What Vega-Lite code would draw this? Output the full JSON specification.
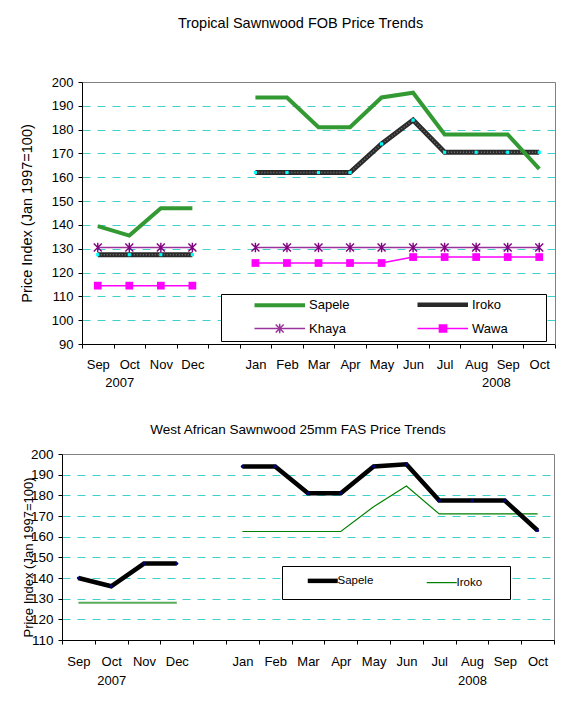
{
  "$schema": "https://vega.github.io/schema/vega-lite/v6.json",
  "padding": {"left": 18, "top": 15, "right": 0, "bottom": 0},
  "background": "white",
  "config": {
    "font": "Liberation Sans",
    "view": {"stroke": "#808080", "strokeWidth": 1},
    "axis": {"domainColor": "black", "tickColor": "black", "labelColor": "black", "titleColor": "black", "labelFont": "Liberation Sans", "titleFont": "Liberation Sans", "titleFontWeight": "normal"},
    "title": {"font": "Liberation Sans", "fontWeight": "normal", "color": "black"},
    "legend": {"labelFont": "Liberation Sans", "titleFont": "Liberation Sans", "labelColor": "black"}
  },
  "spacing": 33,
  "resolve": {"scale": {"color": "independent"}, "legend": {"color": "independent"}},
  "datasets": {
    "top": [
      {"s": "Sapele", "g": "2007", "m": "Sep 2007", "v": 139.5},
      {"s": "Sapele", "g": "2007", "m": "Oct 2007", "v": 135.5},
      {"s": "Sapele", "g": "2007", "m": "Nov 2007", "v": 147},
      {"s": "Sapele", "g": "2007", "m": "Dec 2007", "v": 147},
      {"s": "Sapele", "g": "2008", "m": "Jan 2008", "v": 193.5},
      {"s": "Sapele", "g": "2008", "m": "Feb 2008", "v": 193.5},
      {"s": "Sapele", "g": "2008", "m": "Mar 2008", "v": 181},
      {"s": "Sapele", "g": "2008", "m": "Apr 2008", "v": 181},
      {"s": "Sapele", "g": "2008", "m": "May 2008", "v": 193.5},
      {"s": "Sapele", "g": "2008", "m": "Jun 2008", "v": 195.5},
      {"s": "Sapele", "g": "2008", "m": "Jul 2008", "v": 178},
      {"s": "Sapele", "g": "2008", "m": "Aug 2008", "v": 178},
      {"s": "Sapele", "g": "2008", "m": "Sep 2008", "v": 178},
      {"s": "Sapele", "g": "2008", "m": "Oct 2008", "v": 163.5},
      {"s": "Iroko", "g": "2007", "m": "Sep 2007", "v": 127.5},
      {"s": "Iroko", "g": "2007", "m": "Oct 2007", "v": 127.5},
      {"s": "Iroko", "g": "2007", "m": "Nov 2007", "v": 127.5},
      {"s": "Iroko", "g": "2007", "m": "Dec 2007", "v": 127.5},
      {"s": "Iroko", "g": "2008", "m": "Jan 2008", "v": 162},
      {"s": "Iroko", "g": "2008", "m": "Feb 2008", "v": 162},
      {"s": "Iroko", "g": "2008", "m": "Mar 2008", "v": 162},
      {"s": "Iroko", "g": "2008", "m": "Apr 2008", "v": 162},
      {"s": "Iroko", "g": "2008", "m": "May 2008", "v": 174},
      {"s": "Iroko", "g": "2008", "m": "Jun 2008", "v": 184},
      {"s": "Iroko", "g": "2008", "m": "Jul 2008", "v": 170.5},
      {"s": "Iroko", "g": "2008", "m": "Aug 2008", "v": 170.5},
      {"s": "Iroko", "g": "2008", "m": "Sep 2008", "v": 170.5},
      {"s": "Iroko", "g": "2008", "m": "Oct 2008", "v": 170.5},
      {"s": "Khaya", "g": "2007", "m": "Sep 2007", "v": 130.5},
      {"s": "Khaya", "g": "2007", "m": "Oct 2007", "v": 130.5},
      {"s": "Khaya", "g": "2007", "m": "Nov 2007", "v": 130.5},
      {"s": "Khaya", "g": "2007", "m": "Dec 2007", "v": 130.5},
      {"s": "Khaya", "g": "2008", "m": "Jan 2008", "v": 130.5},
      {"s": "Khaya", "g": "2008", "m": "Feb 2008", "v": 130.5},
      {"s": "Khaya", "g": "2008", "m": "Mar 2008", "v": 130.5},
      {"s": "Khaya", "g": "2008", "m": "Apr 2008", "v": 130.5},
      {"s": "Khaya", "g": "2008", "m": "May 2008", "v": 130.5},
      {"s": "Khaya", "g": "2008", "m": "Jun 2008", "v": 130.5},
      {"s": "Khaya", "g": "2008", "m": "Jul 2008", "v": 130.5},
      {"s": "Khaya", "g": "2008", "m": "Aug 2008", "v": 130.5},
      {"s": "Khaya", "g": "2008", "m": "Sep 2008", "v": 130.5},
      {"s": "Khaya", "g": "2008", "m": "Oct 2008", "v": 130.5},
      {"s": "Wawa", "g": "2007", "m": "Sep 2007", "v": 114.5},
      {"s": "Wawa", "g": "2007", "m": "Oct 2007", "v": 114.5},
      {"s": "Wawa", "g": "2007", "m": "Nov 2007", "v": 114.5},
      {"s": "Wawa", "g": "2007", "m": "Dec 2007", "v": 114.5},
      {"s": "Wawa", "g": "2008", "m": "Jan 2008", "v": 124},
      {"s": "Wawa", "g": "2008", "m": "Feb 2008", "v": 124},
      {"s": "Wawa", "g": "2008", "m": "Mar 2008", "v": 124},
      {"s": "Wawa", "g": "2008", "m": "Apr 2008", "v": 124},
      {"s": "Wawa", "g": "2008", "m": "May 2008", "v": 124},
      {"s": "Wawa", "g": "2008", "m": "Jun 2008", "v": 126.5},
      {"s": "Wawa", "g": "2008", "m": "Jul 2008", "v": 126.5},
      {"s": "Wawa", "g": "2008", "m": "Aug 2008", "v": 126.5},
      {"s": "Wawa", "g": "2008", "m": "Sep 2008", "v": 126.5},
      {"s": "Wawa", "g": "2008", "m": "Oct 2008", "v": 126.5}
    ],
    "bottom": [
      {"s": "Sapele", "g": "2007", "m": "Sep 2007", "v": 140},
      {"s": "Sapele", "g": "2007", "m": "Oct 2007", "v": 136},
      {"s": "Sapele", "g": "2007", "m": "Nov 2007", "v": 147},
      {"s": "Sapele", "g": "2007", "m": "Dec 2007", "v": 147},
      {"s": "Sapele", "g": "2008", "m": "Jan 2008", "v": 194},
      {"s": "Sapele", "g": "2008", "m": "Feb 2008", "v": 194},
      {"s": "Sapele", "g": "2008", "m": "Mar 2008", "v": 181},
      {"s": "Sapele", "g": "2008", "m": "Apr 2008", "v": 181},
      {"s": "Sapele", "g": "2008", "m": "May 2008", "v": 194},
      {"s": "Sapele", "g": "2008", "m": "Jun 2008", "v": 195},
      {"s": "Sapele", "g": "2008", "m": "Jul 2008", "v": 177.5},
      {"s": "Sapele", "g": "2008", "m": "Aug 2008", "v": 177.5},
      {"s": "Sapele", "g": "2008", "m": "Sep 2008", "v": 177.5},
      {"s": "Sapele", "g": "2008", "m": "Oct 2008", "v": 163},
      {"s": "Iroko", "g": "2007", "m": "Sep 2007", "v": 128},
      {"s": "Iroko", "g": "2007", "m": "Oct 2007", "v": 128},
      {"s": "Iroko", "g": "2007", "m": "Nov 2007", "v": 128},
      {"s": "Iroko", "g": "2007", "m": "Dec 2007", "v": 128},
      {"s": "Iroko", "g": "2008", "m": "Jan 2008", "v": 162.5},
      {"s": "Iroko", "g": "2008", "m": "Feb 2008", "v": 162.5},
      {"s": "Iroko", "g": "2008", "m": "Mar 2008", "v": 162.5},
      {"s": "Iroko", "g": "2008", "m": "Apr 2008", "v": 162.5},
      {"s": "Iroko", "g": "2008", "m": "May 2008", "v": 174.5},
      {"s": "Iroko", "g": "2008", "m": "Jun 2008", "v": 184.5},
      {"s": "Iroko", "g": "2008", "m": "Jul 2008", "v": 171},
      {"s": "Iroko", "g": "2008", "m": "Aug 2008", "v": 171},
      {"s": "Iroko", "g": "2008", "m": "Sep 2008", "v": 171},
      {"s": "Iroko", "g": "2008", "m": "Oct 2008", "v": 171}
    ]
  },
  "vconcat": [
    {
      "width": 493,
      "height": 262,
      "view": {"stroke": null},
      "title": {"text": "Tropical Sawnwood FOB Price Trends", "fontSize": 14.5, "offset": 45, "dx": -8},
      "data": {"name": "top"},
      "resolve": {"axis": {"x": "independent", "y": "independent"}},
      "layer": [
        {
          "encoding": {
            "x": {
              "field": "m", "type": "ordinal", "bandPosition": 0.5,
              "scale": {"type": "band", "paddingInner": 0, "paddingOuter": 0, "range": [20, 493],
                "domain": ["Sep 2007", "Oct 2007", "Nov 2007", "Dec 2007", "gap", "Jan 2008", "Feb 2008", "Mar 2008", "Apr 2008", "May 2008", "Jun 2008", "Jul 2008", "Aug 2008", "Sep 2008", "Oct 2008"]},
              "axis": {
                "title": null, "tickBand": "extent", "tickSize": 4, "labelPadding": 10, "labelAngle": 0, "labelOverlap": false,
                "labelFontSize": 13, "labelLineHeight": 18, "labelBaseline": "top", "grid": false,
                "labelExpr": "!isValid(datum.value) || datum.value == 'gap' ? '' : datum.value == 'Oct 2007' ? ['Oct', '2007\u2800\u2800'] : datum.value == 'Sep 2008' ? ['Sep', '2008\u2800\u00a0\u2800'] : split(datum.value, ' ')[0]"
              }
            },
            "y": {
              "field": "v", "type": "quantitative",
              "scale": {"domain": [90, 200], "nice": false, "zero": false},
              "axis": {
                "title": "Price Index (Jan 1997=100)", "titleFontSize": 14.5, "titleX": -55, "titleBaseline": "middle",
                "offset": -20,
                "values": [90, 100, 110, 120, 130, 140, 150, 160, 170, 180, 190, 200],
                "labelFontSize": 13, "tickSize": 4, "labelPadding": 5,
                "grid": true, "gridColor": "#40d0d0", "gridDash": [8, 7], "gridWidth": 1.2,
                "gridOpacity": {"condition": {"test": "datum.value == 90 || datum.value == 200", "value": 0}, "value": 1}
              }
            }
          },
          "layer": [
            {
              "transform": [{"filter": "datum.s == 'Iroko'"}],
              "mark": {"type": "line", "strokeWidth": 5},
              "encoding": {
                "detail": {"field": "g"},
                "color": {
                  "field": "s", "type": "nominal",
                  "scale": {"domain": ["Sapele", "Iroko", "Khaya", "Wawa"], "range": ["#339933", "#2a2a2a", "#993399", "#ff00ff"]},
                  "legend": {
                    "orient": "none", "legendX": 159, "legendY": 212, "direction": "horizontal",
                    "columns": 2, "columnPadding": 38, "rowPadding": 6, "padding": 4,
                    "strokeColor": "black", "fillColor": "white", "title": null,
                    "labelFontSize": 13, "symbolSize": 256, "symbolOffset": 31, "labelOffset": 40,
                    "labelExpr": "datum.label == 'Iroko' || datum.label == 'Wawa' ? datum.label + '\u2800\u00a0\u2800\u2800' : datum.label",
                    "encode": {
                      "symbols": {
                        "update": {
                          "shape": {"signal": "datum.value == 'Khaya' ? 'M-1,0H5.3125M1.65,-0.5L2.65,0.5M2.65,-0.5L1.65,0.5M2.15,-0.6V0.6' : datum.value == 'Wawa' ? 'M-1,0H5.3125M1.74,-0.45H2.64V0.45H1.74Z' : 'M-1,0H5.3125'"},
                          "strokeWidth": {"signal": "datum.value == 'Sapele' ? 4 : datum.value == 'Iroko' ? 4.5 : 1.5"},
                          "stroke": {"signal": "datum.value == 'Sapele' ? '#339933' : datum.value == 'Iroko' ? '#2a2a2a' : datum.value == 'Khaya' ? '#993399' : '#ff00ff'"},
                          "fill": {"signal": "datum.value == 'Wawa' ? '#ff00ff' : 'transparent'"},
                          "opacity": {"value": 1}
                        }
                      }
                    }
                  }
                }
              }
            },
            {
              "transform": [{"filter": "datum.s == 'Iroko'"}],
              "mark": {"type": "line", "strokeWidth": 1.5, "color": "#777777", "strokeDash": [1, 2]},
              "encoding": {"detail": {"field": "g"}}
            },
            {
              "transform": [{"filter": "datum.s == 'Iroko'"}],
              "mark": {"type": "point", "shape": "square", "filled": true, "size": 10, "color": "#00ffff", "opacity": 1},
              "encoding": {}
            },
            {
              "transform": [{"filter": "datum.s == 'Sapele'"}],
              "mark": {"type": "line", "strokeWidth": 4},
              "encoding": {"detail": {"field": "g"}, "color": {"field": "s", "type": "nominal"}}
            },
            {
              "transform": [{"filter": "datum.s == 'Khaya'"}],
              "mark": {"type": "line", "strokeWidth": 1.5},
              "encoding": {"detail": {"field": "g"}, "color": {"field": "s", "type": "nominal"}}
            },
            {
              "transform": [{"filter": "datum.s == 'Khaya'"}],
              "mark": {"type": "point", "shape": "M-1,-1L1,1M1,-1L-1,1M0,-1.2V1.2", "filled": false, "size": 64, "color": "#800080", "strokeWidth": 1.4, "opacity": 1},
              "encoding": {}
            },
            {
              "transform": [{"filter": "datum.s == 'Wawa'"}],
              "mark": {"type": "line", "strokeWidth": 1.5},
              "encoding": {"detail": {"field": "g"}, "color": {"field": "s", "type": "nominal"}}
            },
            {
              "transform": [{"filter": "datum.s == 'Wawa'"}],
              "mark": {"type": "point", "shape": "square", "filled": true, "size": 60, "color": "#ff00ff", "opacity": 1},
              "encoding": {}
            }
          ]
        },
        {
          "transform": [{"filter": "datum.s == 'Khaya'"}],
          "mark": {"type": "point", "opacity": 0},
          "encoding": {
            "x": {
              "field": "m", "type": "ordinal", "bandPosition": 0.5,
              "scale": {"type": "band", "paddingInner": 0, "paddingOuter": 0, "range": [20, 493],
                "domain": ["Sep 2007", "Oct 2007", "Nov 2007", "Dec 2007", "gap", "Jan 2008", "Feb 2008", "Mar 2008", "Apr 2008", "May 2008", "Jun 2008", "Jul 2008", "Aug 2008", "Sep 2008", "Oct 2008"]},
              "axis": {"orient": "top", "title": null, "labels": false, "ticks": false, "grid": false, "domainColor": "#808080"}
            },
            "y": {
              "field": "v", "type": "quantitative",
              "scale": {"domain": [90, 200], "nice": false, "zero": false},
              "axis": {"orient": "right", "title": null, "labels": false, "ticks": false, "grid": false, "domainColor": "#808080"}
            }
          }
        }
      ]
    },
    {
      "width": 492,
      "height": 186,
      "title": {"text": "West African Sawnwood 25mm FAS Price Trends", "fontSize": 13.5, "offset": 11, "dx": -10},
      "data": {"name": "bottom"},
      "encoding": {
        "x": {
          "field": "m", "type": "ordinal", "bandPosition": 0.5,
          "scale": {"type": "band", "paddingInner": 0, "paddingOuter": 0,
            "domain": ["Sep 2007", "Oct 2007", "Nov 2007", "Dec 2007", "gap", "Jan 2008", "Feb 2008", "Mar 2008", "Apr 2008", "May 2008", "Jun 2008", "Jul 2008", "Aug 2008", "Sep 2008", "Oct 2008"]},
          "axis": {
            "title": null, "tickBand": "extent", "tickSize": 4, "labelPadding": 11, "labelAngle": 0, "labelOverlap": false,
            "labelFontSize": 13, "labelLineHeight": 19, "labelBaseline": "top", "grid": false,
            "labelExpr": "!isValid(datum.value) || datum.value == 'gap' ? '' : datum.value == 'Oct 2007' ? ['Oct', '2007'] : datum.value == 'Aug 2008' ? ['Aug', '2008'] : split(datum.value, ' ')[0]"
          }
        },
        "y": {
          "field": "v", "type": "quantitative",
          "scale": {"domain": [110, 200], "nice": false, "zero": false},
          "axis": {
            "title": "Price Index (Jan 1997=100)", "titleFontSize": 13, "titleX": -34, "titleY": 103, "titleBaseline": "middle",
            "values": [110, 120, 130, 140, 150, 160, 170, 180, 190, 200],
            "labelFontSize": 13.5, "tickSize": 4, "labelPadding": 5,
            "grid": true, "gridColor": "#40d0d0", "gridDash": [8, 7], "gridWidth": 1.2,
            "gridOpacity": {"condition": {"test": "datum.value == 110 || datum.value == 200", "value": 0}, "value": 1}
          }
        }
      },
      "layer": [
        {
          "transform": [{"filter": "datum.s == 'Iroko' && datum.g == '2007'"}],
          "mark": {"type": "line", "strokeWidth": 2, "color": "#5aab5a"},
          "encoding": {}
        },
        {
          "transform": [{"filter": "datum.s == 'Iroko' && datum.g == '2008'"}],
          "mark": {"type": "line", "strokeWidth": 1.2},
          "encoding": {
            "color": {
              "field": "s", "type": "nominal",
              "scale": {"domain": ["Sapele", "Iroko"], "range": ["#000000", "#008000"]},
              "legend": {
                "orient": "none", "legendX": 220, "legendY": 112, "direction": "horizontal",
                "columns": 2, "columnPadding": 36, "padding": 9,
                "strokeColor": "black", "fillColor": "white", "title": null,
                "labelFontSize": 11.5, "symbolSize": 256, "symbolOffset": 19, "labelOffset": 16,
                "labelExpr": "datum.label == 'Iroko' ? datum.label + '\u2800\u2800' : datum.label",
                "encode": {
                  "symbols": {
                    "update": {
                      "shape": {"value": "M-1,0H2.75"},
                      "strokeWidth": {"signal": "datum.value == 'Sapele' ? 4.5 : 1.2"},
                      "stroke": {"signal": "datum.value == 'Sapele' ? '#000000' : '#008000'"},
                      "fill": {"value": "transparent"},
                      "opacity": {"value": 1}
                    }
                  }
                }
              }
            }
          }
        },
        {
          "transform": [{"filter": "datum.s == 'Sapele'"}],
          "mark": {"type": "line", "strokeWidth": 4.5},
          "encoding": {"detail": {"field": "g"}, "color": {"field": "s", "type": "nominal"}}
        },
        {
          "transform": [{"filter": "datum.s == 'Sapele'"}],
          "mark": {"type": "point", "shape": "circle", "filled": true, "size": 10, "color": "#000080", "opacity": 1},
          "encoding": {}
        }
      ]
    }
  ]
}
